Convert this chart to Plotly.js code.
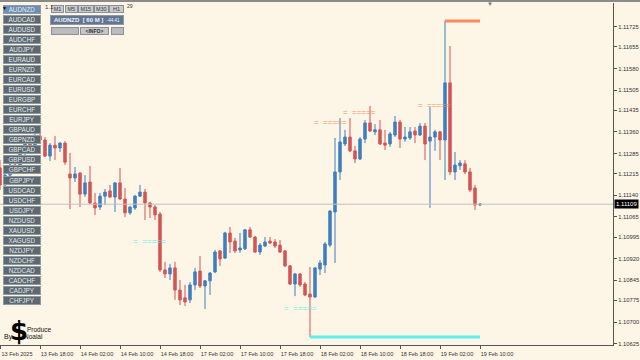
<!DOCTYPE html>
<html><head><meta charset="utf-8">
<script src="https://cdn.plot.ly/plotly-3.0.1.min.js"></script>
<style>html,body{margin:0;padding:0;background:#fdf5e6;}#c{width:640px;height:360px;}</style>
</head><body><div id="c"></div>
<script>
// ---- data (AUDNZD, H1) ----
const openP = [
1.11235,1.11176,1.11210,1.11245,1.11228,1.11287,1.11321,1.11297,1.11346,
1.11332,1.11276,1.11314,1.11304,1.11321,1.11214,1.11200,1.11217,1.11144,1.11186,
1.11113,1.11099,1.11137,1.11155,1.11134,1.11183,1.11127,1.11079,1.11096,1.11137,
1.11151,1.11113,1.11099,1.11075,1.10881,1.10867,1.10888,1.10811,1.10784,1.10777,
1.10829,1.10877,1.10825,1.10843,1.10874,1.10947,1.10922,1.11009,1.10981,1.10950,
1.10954,1.11020,1.10995,1.10943,1.10964,1.10981,1.10978,1.10967,1.10947,1.10895,
1.10832,1.10867,1.10832,1.10797,1.10787,1.10884,1.10898,1.10967,1.11082,1.11221,
1.11318,1.11342,1.11294,1.11266,1.11335,1.11391,1.11360,1.11367,1.11321,1.11318,
1.11349,1.11394,1.11335,1.11339,1.11363,1.11349,1.11380,1.11328,1.11342,1.11360,
1.11332,1.11530,1.11221,1.11242,1.11249,1.11221,1.11165,1.11106];
const highP = [
1.11262,1.11221,1.11255,1.11262,1.11297,1.11332,1.11339,1.11356,1.11367,
1.11342,1.11321,1.11346,1.11325,1.11328,1.11287,1.11238,1.11221,1.11210,1.11242,
1.11148,1.11148,1.11162,1.11176,1.11186,1.11235,1.11165,1.11103,1.11141,1.11176,
1.11162,1.11117,1.11106,1.11082,1.10909,1.10902,1.10909,1.10846,1.10829,1.10839,
1.10888,1.10929,1.10846,1.10874,1.10950,1.10950,1.11013,1.11030,1.10992,1.11009,
1.11023,1.11030,1.10999,1.10974,1.10995,1.10995,1.10988,1.10985,1.10950,1.10898,
1.10870,1.10870,1.10839,1.10891,1.10891,1.10915,1.10978,1.11089,1.11339,1.11408,
1.11367,1.11408,1.11311,1.11342,1.11401,1.11450,1.11387,1.11401,1.11367,1.11360,
1.11415,1.11401,1.11377,1.11377,1.11377,1.11391,1.11391,1.11446,1.11367,1.11363,
1.11745,1.11658,1.11290,1.11262,1.11262,1.11235,1.11176,1.11113];
const lowP = [
1.11158,1.11165,1.11200,1.11221,1.11217,1.11276,1.11290,1.11287,1.11321,
1.11273,1.11259,1.11262,1.11290,1.11245,1.11092,1.11186,1.11099,1.11134,1.11110,
1.11072,1.11089,1.11106,1.11131,1.11082,1.11124,1.11065,1.11072,1.11089,1.11134,
1.11054,1.11061,1.11054,1.10874,1.10853,1.10846,1.10777,1.10759,1.10756,1.10766,
1.10811,1.10818,1.10745,1.10794,1.10870,1.10895,1.10919,1.10940,1.10940,1.10940,
1.10950,1.10992,1.10940,1.10933,1.10960,1.10971,1.10957,1.10940,1.10891,1.10829,
1.10790,1.10822,1.10790,1.10648,1.10784,1.10863,1.10870,1.10960,1.10905,1.11193,
1.11311,1.11290,1.11252,1.11262,1.11321,1.11360,1.11349,1.11314,1.11297,1.11308,
1.11342,1.11304,1.11325,1.11332,1.11321,1.11346,1.11262,1.11096,1.11294,1.11262,
1.11193,1.11210,1.11193,1.11228,1.11214,1.11151,1.11089,1.11103];
const closeP = [
1.11176,1.11210,1.11245,1.11228,1.11287,1.11321,1.11297,1.11346,1.11332,
1.11276,1.11314,1.11304,1.11321,1.11255,1.11200,1.11214,1.11144,1.11183,1.11113,
1.11096,1.11137,1.11151,1.11134,1.11183,1.11127,1.11079,1.11099,1.11137,1.11151,
1.11113,1.11099,1.11072,1.10881,1.10867,1.10888,1.10811,1.10777,1.10770,1.10829,
1.10874,1.10825,1.10843,1.10870,1.10943,1.10919,1.11009,1.10978,1.10947,1.10957,
1.11020,1.10995,1.10943,1.10967,1.10978,1.10974,1.10964,1.10943,1.10895,1.10832,
1.10867,1.10829,1.10794,1.10787,1.10888,1.10905,1.10971,1.11085,1.11221,1.11325,
1.11342,1.11294,1.11266,1.11335,1.11391,1.11363,1.11367,1.11318,1.11314,1.11353,
1.11394,1.11335,1.11342,1.11360,1.11349,1.11380,1.11318,1.11342,1.11360,1.11332,
1.11530,1.11221,1.11245,1.11252,1.11221,1.11158,1.11106,1.11109];
const currentPrice = 1.11109;
const xTickLabels = ['13 Feb 2025','13 Feb 18:00','14 Feb 02:00','14 Feb 10:00','14 Feb 18:00','17 Feb 02:00','17 Feb 10:00','17 Feb 18:00','18 Feb 02:00','18 Feb 10:00','18 Feb 18:00','19 Feb 02:00','19 Feb 10:00'];
const barsPerTick = 8;
const yTickLabels = ['1.11725','1.11655','1.11580','1.11505','1.11435','1.11360','1.11285','1.11215','1.11140','1.11065','1.10995','1.10920','1.10845','1.10775','1.10700','1.10625'];
const resBars = [62.4, 68.2, 83.2];
const resLevels = [1.11391, 1.11427, 1.11450];
const supBars = [26.2, 56.4];
const supLevels = [1.10981, 1.10748];
const pairs = ['AUDNZD','AUDCAD','AUDUSD','AUDCHF','AUDJPY','EURAUD','EURNZD','EURCAD','EURUSD','EURGBP','EURCHF','EURJPY','GBPAUD','GBPNZD','GBPCAD','GBPUSD','GBPCHF','GBPJPY','USDCAD','USDCHF','USDJPY','NZDUSD','XAUUSD','XAGUSD','NZDJPY','NZDCHF','NZDCAD','CADCHF','CADJPY','CHFJPY'];
const tfTabs = ['M1','M5','M15','M30','H1'];

// ---- build ----
const idx = openP.map((_, i) => i);
const BG = '#fdf5e6', UP = '#3f7fbf', DN = '#d45555', ORANGE = '#ff8a5c', CYAN = '#5af0ee';
const W = 613, PT = 3, PB = 345;
const xp = px => px / W;
const yp = py => (PB - py) / (PB - PT);

let maxH = -1, maxI = 0, minL = 9, minI = 0;
highP.forEach((v, i) => { if (v > maxH) { maxH = v; maxI = i; } });
lowP.forEach((v, i) => { if (v < minL) { minL = v; minI = i; } });
const last = idx.length - 1;

const trace = {
  type: 'candlestick', x: idx, open: openP, high: highP, low: lowP, close: closeP,
  increasing: { line: { color: UP, width: 1 }, fillcolor: UP },
  decreasing: { line: { color: DN, width: 1 }, fillcolor: DN },
  whiskerwidth: 0, hoverinfo: 'skip', showlegend: false
};

const shapes = [
  { type: 'line', xref: 'paper', yref: 'y', x0: 0, x1: 1, y0: currentPrice, y1: currentPrice, line: { color: '#c3c3c3', width: 1 } },
  { type: 'line', xref: 'x', yref: 'y', x0: maxI, x1: last, y0: maxH, y1: maxH, line: { color: ORANGE, width: 3 } },
  { type: 'line', xref: 'x', yref: 'y', x0: minI, x1: last, y0: minL, y1: minL, line: { color: CYAN, width: 3 } },
  { type: 'line', xref: 'paper', yref: 'paper', x0: 0, x1: 640 / W, y0: yp(1), y1: yp(1), line: { color: '#8a8a8a', width: 2 } }
];

const ann = [];
const A = o => ann.push(Object.assign({ showarrow: false, xanchor: 'center', yanchor: 'middle' }, o));
resBars.forEach((b, i) => A({ xref: 'x', yref: 'y', x: b, y: resLevels[i], text: '=  =====', xanchor: 'left', font: { family: 'Liberation Sans', size: 8, color: ORANGE } }));
supBars.forEach((b, i) => A({ xref: 'x', yref: 'y', x: b, y: supLevels[i], text: '=  =====', xanchor: 'left', font: { family: 'Liberation Sans', size: 8, color: CYAN } }));
// current price label
A({ xref: 'paper', yref: 'y', x: 1, y: currentPrice, xanchor: 'left', xshift: 1, text: currentPrice.toFixed(5), bgcolor: '#000', borderpad: 1, font: { family: 'Liberation Sans', size: 6, color: '#fff' } });
// pair buttons
pairs.forEach((p, i) => A({
  xref: 'paper', yref: 'paper', x: xp(21.7), y: yp(9.5 + 10.03 * i), text: p,
  width: 36, height: 7, borderpad: 0, borderwidth: 1,
  bgcolor: i === 0 ? '#6c8db5' : '#5d6870', bordercolor: '#8d9ca0',
  font: { family: 'Liberation Sans', size: 6.3, color: '#e4e9ec' }
}));
A({ xref: 'paper', yref: 'paper', x: xp(4.5), y: yp(8), text: '▼', font: { size: 5, color: '#000' } });
// timeframe tabs
const tabX = [57, 71.3, 86.3, 101.7, 116.7], tabW = [11, 10.5, 13.5, 12.5, 13];
tfTabs.forEach((t, i) => A({
  xref: 'paper', yref: 'paper', x: xp(tabX[i]), y: yp(9.5), text: t, width: tabW[i], height: 6,
  borderpad: 0, borderwidth: 1, bgcolor: '#c9cbcd', bordercolor: '#8c9094',
  font: { family: 'Liberation Sans', size: 5.5, color: '#3a4148' }
}));
A({ xref: 'paper', yref: 'paper', x: xp(43), y: yp(7), xanchor: 'left', text: '1.1', font: { family: 'Liberation Sans', size: 6, color: '#333' } });
A({ xref: 'paper', yref: 'paper', x: xp(124.5), y: yp(6), xanchor: 'left', text: '29', font: { family: 'Liberation Sans', size: 5, color: '#333' } });
A({ xref: 'paper', yref: 'paper', x: xp(87), y: yp(20), text: '<b>AUDNZD  [ 60 M ]</b>  <span style="font-size:4.5px">-44:41</span>', width: 72, height: 8, borderpad: 0, borderwidth: 1, bgcolor: '#627691', bordercolor: '#8b98a8', font: { family: 'Liberation Sans', size: 6, color: '#eef2f6' } });
A({ xref: 'paper', yref: 'paper', x: xp(65), y: yp(31), text: ' ', width: 26, height: 6, borderpad: 0, borderwidth: 1, bgcolor: '#b9bcbf', bordercolor: '#8c9094', font: { size: 5 } });
A({ xref: 'paper', yref: 'paper', x: xp(94.5), y: yp(31), text: '<b>&lt;INFO&gt;</b>', width: 27, height: 6, borderpad: 0, borderwidth: 1, bgcolor: '#c3c5c8', bordercolor: '#8c9094', font: { family: 'Liberation Sans', size: 5, color: '#333' } });
A({ xref: 'paper', yref: 'paper', x: xp(117.5), y: yp(31), text: ' ', width: 11, height: 6, borderpad: 0, borderwidth: 1, bgcolor: '#b9bcbf', bordercolor: '#8c9094', font: { size: 5 } });
// logo
A({ xref: 'paper', yref: 'paper', x: xp(19), y: yp(331), text: '<b>$</b>', font: { family: 'DejaVu Sans', size: 26, color: '#000' } });
A({ xref: 'paper', yref: 'paper', x: xp(8), y: yp(337), text: 'By', font: { family: 'Liberation Sans', size: 7, color: '#111' } });
A({ xref: 'paper', yref: 'paper', x: xp(25), y: yp(329), xanchor: 'left', text: 'Produce', font: { family: 'Liberation Sans', size: 6.5, color: '#111' } });
A({ xref: 'paper', yref: 'paper', x: xp(22), y: yp(336.5), xanchor: 'left', text: 'Noaial', font: { family: 'Liberation Sans', size: 6.5, color: '#111' } });
A({ xref: 'paper', yref: 'paper', x: xp(490), y: yp(4), text: '▼', font: { size: 6, color: '#777' } });

const layout = {
  width: 640, height: 360, paper_bgcolor: BG, plot_bgcolor: BG,
  margin: { l: 0, r: 640 - W, t: PT, b: 360 - PB, pad: 0 },
  font: { family: 'Liberation Sans', size: 6, color: '#333' },
  showlegend: false, boxgap: 0.3,
  xaxis: {
    range: [0, 122.6], rangeslider: { visible: false }, showgrid: false, zeroline: false,
    tickmode: 'array', tickvals: xTickLabels.map((_, i) => i * barsPerTick), ticktext: xTickLabels,
    ticks: 'outside', ticklen: 3, tickcolor: '#555', showline: true, linecolor: '#555', linewidth: 1,
    tickfont: { size: 5.5, color: '#333' }, ticklabelshift: 17, fixedrange: true
  },
  yaxis: {
    side: 'right', range: [1.106204, 1.118072], showgrid: false, zeroline: false,
    tickmode: 'array', tickvals: yTickLabels.map(Number), ticktext: yTickLabels,
    ticks: 'outside', ticklen: 3, tickcolor: '#555', showline: true, linecolor: '#555', linewidth: 1,
    tickfont: { size: 5.8, color: '#333' }, fixedrange: true
  },
  shapes: shapes, annotations: ann
};
Plotly.newPlot('c', [trace], layout, { displayModeBar: false, staticPlot: true });
</script></body></html>
